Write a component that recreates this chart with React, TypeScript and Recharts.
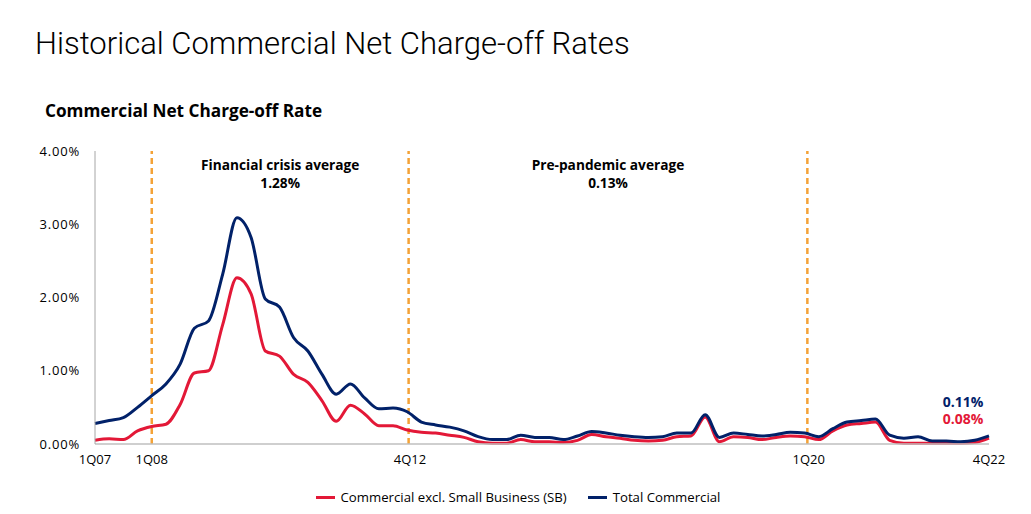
import React from 'react';
import { LineChart, Line, XAxis, YAxis, ReferenceLine, Legend, LabelList } from 'recharts';

// Quarterly net charge-off rates (%), 1Q07 .. 4Q22
const totalCommercial = [
  0.28, 0.32, 0.36, 0.50, 0.66, 0.82, 1.09, 1.58, 1.68, 2.32, 3.09, 2.82, 1.98, 1.87, 1.45, 1.27,
  0.95, 0.68, 0.82, 0.63, 0.48, 0.49, 0.44, 0.30, 0.26, 0.23, 0.18, 0.10, 0.06, 0.06, 0.12, 0.09,
  0.09, 0.06, 0.11, 0.17, 0.15, 0.12, 0.10, 0.09, 0.10, 0.15, 0.15, 0.40, 0.09, 0.15, 0.13, 0.11,
  0.13, 0.16, 0.15, 0.10, 0.21, 0.30, 0.32, 0.34, 0.12, 0.08, 0.10, 0.04, 0.04, 0.03, 0.05, 0.11,
];
const commercialExclSB = [
  0.05, 0.07, 0.06, 0.18, 0.24, 0.27, 0.54, 0.97, 1.00, 1.63, 2.27, 2.05, 1.27, 1.20, 0.95, 0.84,
  0.59, 0.31, 0.53, 0.41, 0.25, 0.25, 0.19, 0.16, 0.15, 0.12, 0.09, 0.03, 0.01, 0.01, 0.06, 0.03,
  0.03, 0.02, 0.05, 0.13, 0.10, 0.08, 0.05, 0.04, 0.05, 0.10, 0.11, 0.37, 0.03, 0.10, 0.09, 0.06,
  0.09, 0.11, 0.10, 0.06, 0.18, 0.26, 0.28, 0.30, 0.05, 0.01, 0.01, 0.01, 0.01, 0.01, 0.02, 0.08,
];
const tickPositions = [0, 4, 22.2, 50.3, 63];
const tickLabels = ['1Q07', '1Q08', '4Q12', '1Q20', '4Q22'];
const periodDividers = [4, 22.1, 50.2];
const periodNoteTitles = ['Financial crisis average', 'Pre-pandemic average'];
const periodNoteValues = ['1.28%', '0.13%'];
const yTicks = [0, 1, 2, 3, 4];

const NAVY = '#012169';
const RED = '#E31837';
const ORANGE = '#F4A236';
const FONT = '"Open Sans", "Noto Sans", sans-serif';

const data = totalCommercial.map((t, i) => ({ q: i, total: t, excl: commercialExclSB[i] }));
const last = data.length - 1;

const tickLabelFor = (v: number) => {
  const k = tickPositions.indexOf(v);
  return k >= 0 ? tickLabels[k] : '';
};

const makeEndLabel = (color: string, dy: number) => (props: any) => {
  const { x, y, index, value } = props;
  if (index !== last) return null;
  return (
    <text x={x - 26} y={y + dy} textAnchor="middle" fill={color} fontFamily={FONT} fontWeight={700} fontSize={14}>
      {`${Number(value).toFixed(2)}%`}
    </text>
  );
};

const noteLabel = (k: number) => (props: any) => {
  const vb = props.viewBox || {};
  return (
    <g>
      <text x={vb.x} y={vb.y + 19} textAnchor="middle" fill="#000" fontFamily={FONT} fontWeight={700} fontSize={13.7}>
        {periodNoteTitles[k]}
      </text>
      <text x={vb.x} y={vb.y + 37} textAnchor="middle" fill="#000" fontFamily={FONT} fontWeight={700} fontSize={13.7}>
        {periodNoteValues[k]}
      </text>
    </g>
  );
};

const legendItems = [
  { label: 'Commercial excl. Small Business (SB)', color: RED },
  { label: 'Total Commercial', color: NAVY },
];

const renderLegend = () => (
  <div style={{ display: 'flex', justifyContent: 'center', alignItems: 'center', fontFamily: FONT, fontSize: 13.2, color: '#000', height: 20, paddingLeft: 12 }}>
    {legendItems.map((it, k) => (
      <div key={k} style={{ display: 'flex', alignItems: 'center', marginRight: k === 0 ? 21 : 0 }}>
        <span style={{ display: 'inline-block', width: 19, height: 3, background: it.color, marginRight: 6 }} />
        <span>{it.label}</span>
      </div>
    ))}
  </div>
);

export default function App() {
  return (
    <div style={{ position: 'absolute', left: 0, top: 0, width: 1031, height: 514, background: '#fff', fontFamily: FONT }}>
      <div style={{ position: 'absolute', left: 35, top: 25, fontFamily: 'Roboto, sans-serif', fontWeight: 300, fontSize: 31.5, color: '#000', whiteSpace: 'nowrap', transform: 'scaleX(0.985)', transformOrigin: 'left top' }}>
        Historical Commercial Net Charge-off Rates
      </div>
      <div style={{ position: 'absolute', left: 45, top: 99, fontFamily: FONT, fontWeight: 700, fontSize: 17.2, color: '#000', whiteSpace: 'nowrap' }}>
        Commercial Net Charge-off Rate
      </div>
      <div style={{ position: 'absolute', left: 0, top: 0 }}>
        <LineChart width={1031} height={514} data={data} margin={{ top: 151, right: 42, bottom: 7, left: 35 }}>
          <XAxis
            dataKey="q"
            type="number"
            domain={[0, 63]}
            ticks={tickPositions}
            tickFormatter={tickLabelFor}
            tickLine={false}
            tickSize={6}
            tickMargin={5}
            height={43}
            interval={0}
            axisLine={{ stroke: '#BFBFBF', strokeWidth: 1.5 }}
            tick={{ fill: '#000', fontSize: 13, fontFamily: FONT }}
          />
          <YAxis
            type="number"
            domain={[0, 4]}
            ticks={yTicks}
            width={60}
            tickFormatter={(v: number) => `${v.toFixed(2)}%`}
            tickLine={false}
            tickSize={6}
            tickMargin={9}
            axisLine={{ stroke: '#A6A6A6', strokeWidth: 1 }}
            tick={{ fill: '#000', fontSize: 13, fontFamily: FONT, letterSpacing: 0.8 }}
          />
          {periodDividers.map((d) => (
            <ReferenceLine key={d} x={d} stroke={ORANGE} strokeWidth={2.5} strokeDasharray="6 4" />
          ))}
          {[0, 1].map((k) => (
            <ReferenceLine
              key={`n${k}`}
              x={(periodDividers[k] + periodDividers[k + 1]) / 2}
              stroke="none"
              label={noteLabel(k)}
            />
          ))}
          <Legend verticalAlign="bottom" height={20} content={renderLegend} />
          <Line type="monotone" dataKey="excl" name="Commercial excl. Small Business (SB)" stroke={RED} strokeWidth={3} dot={false} isAnimationActive={false}>
            <LabelList dataKey="excl" content={makeEndLabel(RED, -14)} />
          </Line>
          <Line type="monotone" dataKey="total" name="Total Commercial" stroke={NAVY} strokeWidth={3} dot={false} isAnimationActive={false}>
            <LabelList dataKey="total" content={makeEndLabel(NAVY, -29)} />
          </Line>
        </LineChart>
      </div>
    </div>
  );
}
